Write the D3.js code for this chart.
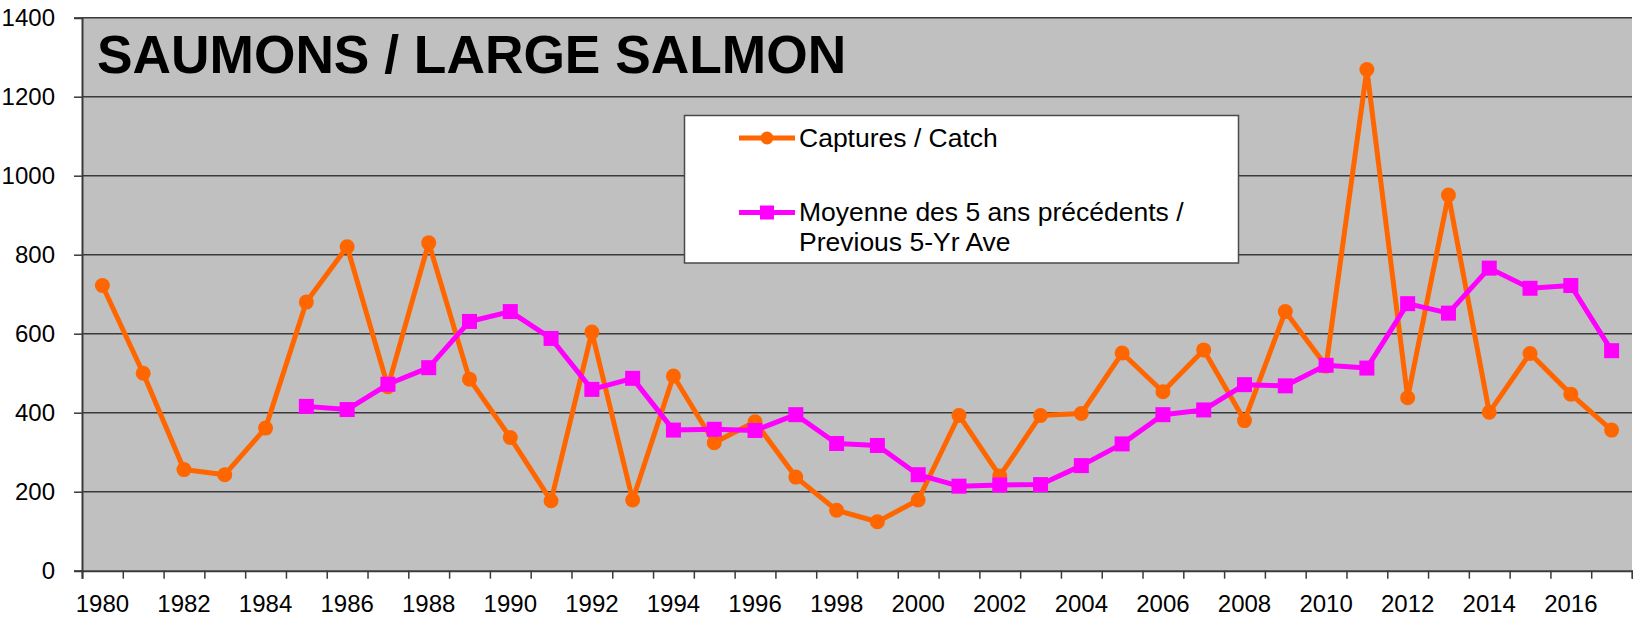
<!DOCTYPE html>
<html>
<head>
<meta charset="utf-8">
<script src="https://cdn.jsdelivr.net/npm/d3@7"></script>
<style>
  html, body { margin: 0; padding: 0; background: #ffffff; }
  svg { display: block; font-family: "Liberation Sans", Arial, sans-serif; }
</style>
</head>
<body>
<svg id="chart" width="1633" height="620"></svg>
<script>
// ---- data ----
const years = d3.range(1980, 2018);
const catchValues = [722, 500, 256, 243, 361, 680, 820, 466, 830, 485,
                     337, 177, 604, 179, 493, 324, 377, 237, 153, 124,
                     179, 393, 240, 393, 398, 551, 453, 559, 380, 656,
                     518, 1269, 438, 951, 401, 550, 447, 356];
const avgYears = d3.range(1985, 2018);
const avgValues = [416, 408, 472, 514, 631, 656, 588, 459, 487, 356,
                   358, 355, 395, 322, 317, 243, 214, 217, 218, 266,
                   321, 395, 407, 471, 468, 520, 513, 676, 652, 766,
                   715, 722, 557];
const yTicks = [0, 200, 400, 600, 800, 1000, 1200, 1400];
const xLabelYears = d3.range(1980, 2018, 2);
const title = "SAUMONS / LARGE SALMON";
const seriesNames = ["Captures / Catch", ["Moyenne des 5 ans précédents /", "Previous 5-Yr Ave"]];
const colors = { catch: "#FF6600", avg: "#FF00FF" };

// ---- layout ----
const svg = d3.select("#chart");
const L = 82, R = 1632, T = 17.7, B = 570.7;

const x = d3.scaleBand().domain(years).range([L, R]).padding(0);
const xEdge = d3.scaleLinear().domain([1980, 2018]).range([L, R]);
const y = d3.scaleLinear().domain([0, 1400]).range([B, T]);

// plot background
svg.append("rect").attr("x", L).attr("y", T).attr("width", R - L).attr("height", B - T)
  .attr("fill", "#C0C0C0");

// gridlines
svg.append("g").selectAll("line").data(yTicks.filter(d => d > 0)).join("line")
  .attr("x1", L).attr("x2", R).attr("y1", d => y(d)).attr("y2", d => y(d))
  .attr("stroke", "#3a3a3a").attr("stroke-width", 1.5);

// y axis
const yAxis = svg.append("g").attr("transform", `translate(${L},0)`)
  .call(d3.axisLeft(y).tickValues(yTicks).tickSize(8).tickPadding(19).tickFormat(d3.format("d")));
yAxis.select(".domain").attr("stroke", "#3a3a3a").attr("stroke-width", 2);
yAxis.selectAll(".tick line").attr("stroke", "#3a3a3a").attr("stroke-width", 1.5);
yAxis.selectAll("text").attr("font-size", 24).attr("fill", "#000")
  .attr("font-family", "Liberation Sans, Arial, sans-serif");

// x axis tick marks at category boundaries
const xTickAxis = svg.append("g").attr("transform", `translate(0,${B})`)
  .call(d3.axisBottom(xEdge).tickValues(d3.range(1980, 2019)).tickSize(8).tickFormat(""));
xTickAxis.select(".domain").attr("stroke", "#3a3a3a").attr("stroke-width", 2);
xTickAxis.selectAll(".tick line").attr("stroke", "#3a3a3a").attr("stroke-width", 1.5);

// x labels at category centers
const xLabAxis = svg.append("g").attr("transform", `translate(0,${B})`)
  .call(d3.axisBottom(x).tickValues(xLabelYears).tickSize(0).tickPadding(24));
xLabAxis.select(".domain").remove();
xLabAxis.selectAll("text").attr("font-size", 24).attr("fill", "#000")
  .attr("font-family", "Liberation Sans, Arial, sans-serif");

// title
svg.append("text").attr("x", 97).attr("y", 73)
  .attr("font-size", 53.3).attr("font-weight", "bold").attr("fill", "#000")
  .text(title);

// legend
const lg = svg.append("g");
lg.append("rect").attr("x", 684.5).attr("y", 115.5).attr("width", 554).attr("height", 147.5)
  .attr("fill", "#fff").attr("stroke", "#4a4a4a").attr("stroke-width", 1.5);
lg.append("line").attr("x1", 739).attr("x2", 795).attr("y1", 138).attr("y2", 138)
  .attr("stroke", colors.catch).attr("stroke-width", 5);
lg.append("circle").attr("cx", 767).attr("cy", 138).attr("r", 6.5).attr("fill", colors.catch);
lg.append("text").attr("x", 799).attr("y", 147).attr("font-size", 26.5).attr("fill", "#000")
  .text(seriesNames[0]);
lg.append("line").attr("x1", 739).attr("x2", 795).attr("y1", 212.5).attr("y2", 212.5)
  .attr("stroke", colors.avg).attr("stroke-width", 5);
lg.append("rect").attr("x", 767 - 7).attr("y", 212.5 - 7).attr("width", 14).attr("height", 14)
  .attr("fill", colors.avg);
lg.append("text").attr("x", 799).attr("y", 221).attr("font-size", 26.5).attr("fill", "#000")
  .text(seriesNames[1][0]);
lg.append("text").attr("x", 799).attr("y", 251).attr("font-size", 26.5).attr("fill", "#000")
  .text(seriesNames[1][1]);

// series
const cx = d => x(d) + x.bandwidth() / 2;
const catchData = years.map((yr, i) => ({ yr, v: catchValues[i] }));
const avgData = avgYears.map((yr, i) => ({ yr, v: avgValues[i] }));
const line = d3.line().x(d => cx(d.yr)).y(d => y(d.v));

svg.append("path").datum(catchData).attr("d", line)
  .attr("fill", "none").attr("stroke", colors.catch).attr("stroke-width", 5).attr("stroke-linejoin", "round");
svg.append("g").selectAll("circle").data(catchData).join("circle")
  .attr("cx", d => cx(d.yr)).attr("cy", d => y(d.v)).attr("r", 7.5).attr("fill", colors.catch);

svg.append("path").datum(avgData).attr("d", line)
  .attr("fill", "none").attr("stroke", colors.avg).attr("stroke-width", 5).attr("stroke-linejoin", "round");
svg.append("g").selectAll("rect").data(avgData).join("rect")
  .attr("x", d => cx(d.yr) - 7.5).attr("y", d => y(d.v) - 7.5)
  .attr("width", 15).attr("height", 15).attr("fill", colors.avg);
</script>
</body>
</html>
